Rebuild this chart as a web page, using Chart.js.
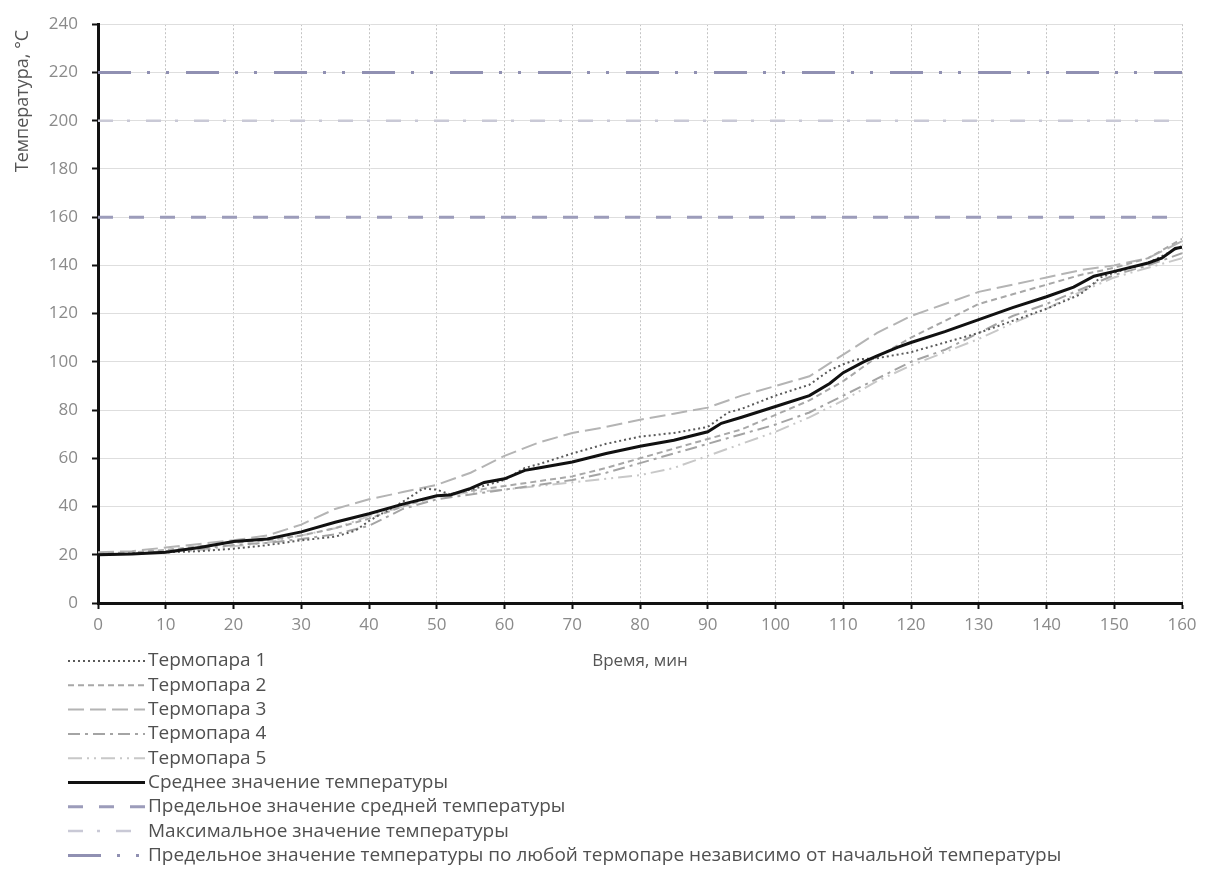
<!DOCTYPE html>
<html>
<head>
<meta charset="utf-8">
<script src="https://cdn.jsdelivr.net/npm/chart.js@4/dist/chart.umd.min.js"></script>
<style>
  html, body { margin: 0; padding: 0; background: #fff; }
  #wrap { width: 1206px; height: 876px; }
</style>
</head>
<body>
<div id="wrap"><canvas id="c" width="1206" height="876"></canvas></div>
<script>
// ---- Data ----
const seriesNames = [
  'Термопара 1', 'Термопара 2', 'Термопара 3', 'Термопара 4', 'Термопара 5',
  'Среднее значение температуры',
  'Предельное значение средней температуры',
  'Максимальное значение температуры',
  'Предельное значение температуры по любой термопаре независимо от начальной температуры'
];
const xTitle = 'Время, мин';
const yTitle = 'Температура, °С';

const times5 = [0,5,10,15,20,25,30,35,40,45,50,55,60,65,70,75,80,85,90,95,100,105,110,115,120,125,130,135,140,145,150,155,160];

const t1Times = [0,5,10,15,20,25,30,35,38,40,45,48,50,52,55,60,63,65,70,75,80,85,90,93,95,100,105,108,110,112,115,120,125,130,135,140,145,148,150,155,160];
const t1Temp  = [20,20.5,21,21.5,22.5,24,26,27.5,30,34,42,47.5,47,45,47,51,56,57.5,62,66,69,70.5,73,79,80.5,86,90.5,96.5,99,101,101.5,104,108,112,117,122,128,135,137,141,148];

const t2Temp = [20.5,21,22,23.5,25,26,28,31,35,40,44.5,46.5,48.5,50.5,52.5,56,60,64,68,72,78,84,92,102,110,117,124,128,132,136,139,143,151];
const t3Temp = [21,21.5,23,24.5,26,28,32.5,39,43,46,49,54,61,66.5,70.5,73,76,78.5,81,86,90,94,103,112,119,124,129,132,135,138,140,143,150];
const t4Temp = [20,20.5,21.5,22.5,24,25,26.5,28.5,32,39,43,45,47,49,51,54,58,62,66,70,74,79,86,93,100,105,112,119,124,130,136,140,145];
const t5Temp = [20,20.5,21,22,23.5,25,28,31,36,40,44,46,47,48.5,50,51.5,53,56,61,66,71,77,84,92,98.5,104,109.5,116,122,129,135,139,143];

const meanTimes = [0,5,10,15,20,25,30,35,40,45,50,52,55,57,60,63,65,70,75,80,85,90,92,95,100,105,108,110,113,115,118,120,125,130,135,140,144,147,150,155,157,159,160];
const meanTemp  = [20,20.3,21,23,25.5,26.5,29.5,33.5,37,41,44.5,44.8,47.5,50,51.5,55,56,58.5,62,65,67.5,71,74.5,77,81.5,86,91,95.5,100,102.5,106,108,112.5,117.5,122.5,127,131,135.5,137.5,141,143,147,147.5];

const limitTimes = [0, 160];
const limitAvgTemp = [160, 160];
const maxTemp = [200, 200];
const limitAnyTemp = [220, 220];

const xTicks = [0,10,20,30,40,50,60,70,80,90,100,110,120,130,140,150,160];
const yTicks = [0,20,40,60,80,100,120,140,160,180,200,220,240];

// ---- Helpers ----
const zip = (xs, ys) => xs.map((x, i) => ({x: x, y: ys[i]}));

const styles = [
  {color: '#5a5a5a', width: 2,   dash: [2, 3]},
  {color: '#a8a8a8', width: 2,   dash: [6, 4]},
  {color: '#b4b4b4', width: 2,   dash: [16, 6]},
  {color: '#a4a4a4', width: 2,   dash: [12, 5, 3, 5]},
  {color: '#c8c8c8', width: 2,   dash: [14, 5, 2, 5, 2, 5]},
  {color: '#111111', width: 3,   dash: []},
  {color: '#9c9cba', width: 3,   dash: [15, 16]},
  {color: '#c9c9d6', width: 2.5, dash: [15, 14, 3, 16]},
  {color: '#9090b2', width: 3,   dash: [33, 16, 3, 16, 3, 17]}
];

const seriesData = [
  zip(t1Times, t1Temp),
  zip(times5, t2Temp),
  zip(times5, t3Temp),
  zip(times5, t4Temp),
  zip(times5, t5Temp),
  zip(meanTimes, meanTemp),
  zip(limitTimes, limitAvgTemp),
  zip(limitTimes, maxTemp),
  zip(limitTimes, limitAnyTemp)
];

const datasets = seriesData.map((d, i) => ({
  label: seriesNames[i],
  data: d,
  borderColor: styles[i].color,
  backgroundColor: 'transparent',
  borderWidth: styles[i].width,
  borderDash: styles[i].dash,
  pointRadius: 0,
  tension: 0,
  fill: false,
  order: i === 5 ? 0 : 1
}));

const FONT = '"Open Sans", "DejaVu Sans", sans-serif';

// Legend + y title drawn with the datasets' own styles
const customLegend = {
  id: 'customLegend',
  afterDraw(chart) {
    const ctx = chart.ctx;
    ctx.save();
    // y axis title
    ctx.save();
    ctx.translate(23, 101);
    ctx.rotate(-Math.PI / 2);
    ctx.font = '18px ' + FONT;
    ctx.fillStyle = '#555';
    ctx.textAlign = 'center';
    ctx.textBaseline = 'middle';
    ctx.fillText(yTitle, 0, 0);
    ctx.restore();

    const x0 = 68, x1 = 145, y0 = 661, dy = 24.3;
    chart.data.datasets.forEach((ds, i) => {
      const y = y0 + dy * i;
      ctx.save();
      ctx.strokeStyle = ds.borderColor;
      ctx.lineWidth = ds.borderWidth;
      ctx.setLineDash(ds.borderDash || []);
      ctx.beginPath();
      ctx.moveTo(x0, y);
      ctx.lineTo(x1, y);
      ctx.stroke();
      ctx.restore();
      ctx.font = '19px ' + FONT;
      ctx.fillStyle = '#505050';
      ctx.textAlign = 'left';
      ctx.textBaseline = 'middle';
      ctx.fillText(ds.label, x1 + 3, y);
    });
    ctx.restore();
  }
};

new Chart(document.getElementById('c'), {
  type: 'line',
  data: { datasets: datasets },
  options: {
    responsive: false,
    animation: false,
    devicePixelRatio: 1,
    layout: { padding: { left: 8, right: 24, top: 19, bottom: 201 } },
    plugins: {
      legend: { display: false },
      tooltip: { enabled: false }
    },
    scales: {
      x: {
        type: 'linear',
        min: 0, max: 160,
        afterBuildTicks: (s) => { s.ticks = xTicks.map(v => ({value: v})); },
        afterFit: (s) => { s.height = 72; },
        grid: { color: '#c4c4c4', lineWidth: 1, tickColor: '#111', tickLength: 6, tickWidth: 2 },
        border: { display: true, color: '#111', width: 3, dash: [2, 2] },
        ticks: { color: '#8a8a8a', font: { family: FONT, size: 17 }, padding: 6, maxRotation: 0 },
        title: { display: true, text: xTitle, color: '#555', font: { family: FONT, size: 17 }, padding: { top: 0, bottom: 4 } }
      },
      y: {
        type: 'linear',
        min: 0, max: 240,
        afterBuildTicks: (s) => { s.ticks = yTicks.map(v => ({value: v})); },
        afterFit: (s) => { s.width = 90; },
        grid: { color: '#dedede', lineWidth: 1, tickColor: '#111', tickLength: 6, tickWidth: 2 },
        border: { display: true, color: '#111', width: 3 },
        ticks: { color: '#8a8a8a', font: { family: FONT, size: 17 }, padding: 14 }
      }
    }
  },
  plugins: [customLegend]
});
</script>
</body>
</html>
